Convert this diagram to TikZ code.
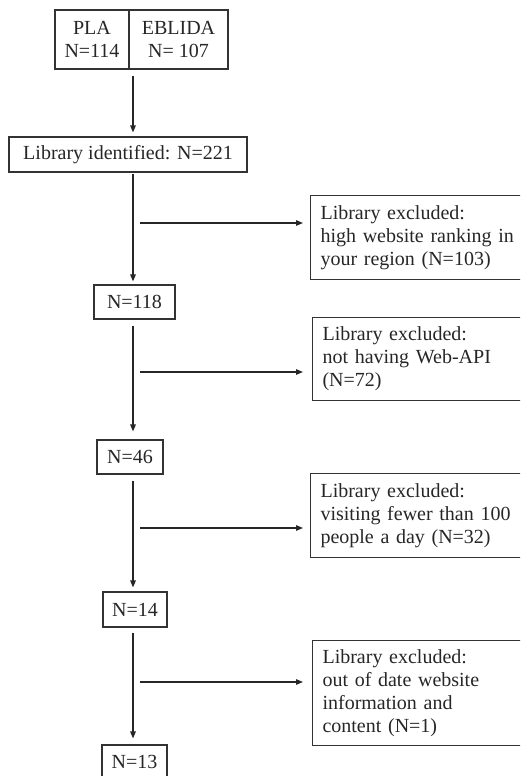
\documentclass[tikz,border=0pt]{standalone}
\usepackage{fontspec}
\setmainfont{Liberation Serif}
\usetikzlibrary{arrows.meta}
\begin{document}
\begin{tikzpicture}[x=1pt,y=1pt,
  box/.style={draw=black!80, line width=1.1pt, font=\fontsize{20}{23}\selectfont, text=black!85, inner sep=0pt, align=center},
  rbox/.style={draw=black!80, line width=1.1pt, font=\fontsize{20}{23}\selectfont, text=black!85, anchor=north west, inner xsep=8pt, inner ysep=0pt, text width=230pt, align=left, minimum width=250pt},
  arr/.style={draw=black!85, line width=1.3pt, -{Triangle[length=7pt,width=5.5pt]}}]
\useasboundingbox (0,0) rectangle (520,-776);
\clip (0,0) rectangle (520,-776);
% left column
\node[box, minimum width=74pt, minimum height=59pt] (pla) at (92,-39.5) {PLA\\N=114};
\node[box, minimum width=99pt, minimum height=59pt] (eblida) at (178.5,-39.5) {EBLIDA\\N= 107};
\node[box, minimum width=238pt, minimum height=35pt] (lib) at (128,-154.5) {Library identified: N=221};
\node[box, minimum width=81pt, minimum height=34pt] (n118) at (134.5,-302) {N=118};
\node[box, minimum width=66pt, minimum height=34pt] (n46) at (130,-457) {N=46};
\node[box, minimum width=64pt, minimum height=35pt] (n14) at (135,-609.5) {N=14};
\node[box, minimum width=65pt, minimum height=34pt] (n13) at (134.5,-762) {N=13};
% right column
\node[rbox, minimum height=84pt] (r1) at (310,-195) {Library excluded:\\high website ranking in\\your region (N=103)};
\node[rbox, minimum height=83pt] (r2) at (312,-317) {Library excluded:\\not having Web-API\\(N=72)};
\node[rbox, minimum height=84pt] (r3) at (310,-473) {Library excluded:\\visiting fewer than 100\\people a day (N=32)};
\node[rbox, minimum height=105pt] (r4) at (312,-640) {Library excluded:\\out of date website\\information and\\content (N=1)};
% spine
\coordinate (sp) at (133,0);
\draw[arr] ([yshift=-6pt]pla.south east -| sp) -- ([yshift=4pt]lib.north -| sp);
\draw[arr] ([yshift=-1pt]lib.south -| sp) -- ([yshift=3pt]n118.north -| sp);
\draw[arr] ([yshift=-6pt]n118.south -| sp) -- ([yshift=8pt]n46.north -| sp);
\draw[arr] ([yshift=-6pt]n46.south -| sp) -- ([yshift=4pt]n14.north -| sp);
\draw[arr] ([yshift=-5pt]n14.south -| sp) -- ([yshift=6pt]n13.north -| sp);
% branches
\coordinate (b1) at (140,-223);
\coordinate (b2) at (140,-372);
\coordinate (b3) at (140,-528);
\coordinate (b4) at (140,-682);
\draw[arr, shorten >=7pt] (b1) -- (b1 -| r1.west);
\draw[arr, shorten >=9pt] (b2) -- (b2 -| r2.west);
\draw[arr, shorten >=7pt] (b3) -- (b3 -| r3.west);
\draw[arr, shorten >=9pt] (b4) -- (b4 -| r4.west);
\end{tikzpicture}
\end{document}
